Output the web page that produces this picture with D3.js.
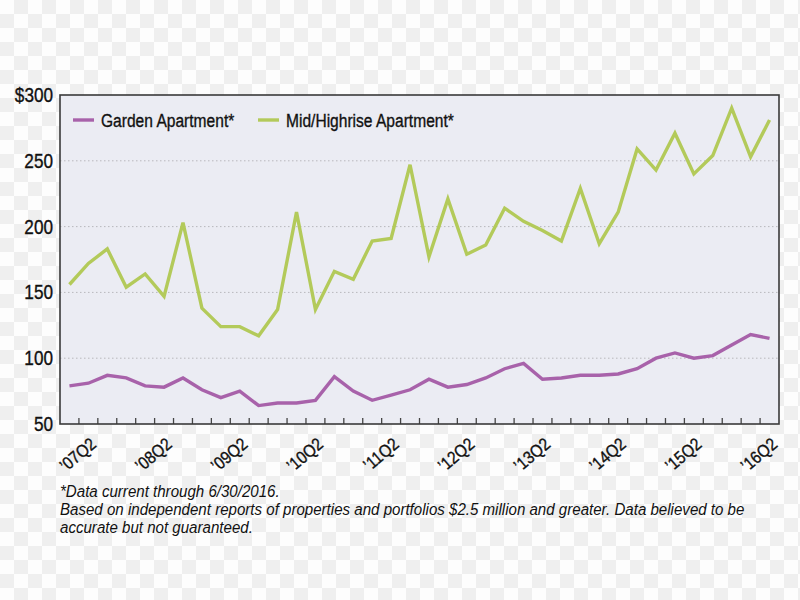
<!DOCTYPE html>
<html><head><meta charset="utf-8">
<script src="https://cdn.jsdelivr.net/npm/d3@7"></script>
<style>
html,body{margin:0;padding:0;background:#fff;}
svg{display:block;}
text{font-family:'Liberation Sans','Arial',sans-serif;fill:#111;}
.heavy{stroke:#111;stroke-width:0.35px;}
</style></head>
<body>
<svg id="chart" width="800" height="600"></svg>
<script>
const quarters = ["07Q1","07Q2","07Q3","07Q4","08Q1","08Q2","08Q3","08Q4","09Q1","09Q2","09Q3","09Q4",
  "10Q1","10Q2","10Q3","10Q4","11Q1","11Q2","11Q3","11Q4","12Q1","12Q2","12Q3","12Q4",
  "13Q1","13Q2","13Q3","13Q4","14Q1","14Q2","14Q3","14Q4","15Q1","15Q2","15Q3","15Q4","16Q1","16Q2"];
const garden = [79,81,87,85,79,78,85,76,70,75,64,66,66,68,86,75,68,72,76,84,78,80,85,92,96,84,85,87,87,88,92,100,104,100,102,110,118,115];
const highrise = [156,172,183,154,164,147,203,138,124,124,117,137,211,137,166,160,189,191,247,177,221,179,186,214,204,197,189,229,187,211,259,243,271,240,254,290,253,281];
const tickQuarters = ["07Q2","08Q2","09Q2","10Q2","11Q2","12Q2","13Q2","14Q2","15Q2","16Q2"];
const tickLabels = ["\u201907Q2","\u201908Q2","\u201909Q2","\u201910Q2","\u201911Q2","\u201912Q2","\u201913Q2","\u201914Q2","\u201915Q2","\u201916Q2"];
const yTicks = [50,100,150,200,250,300];
const yTickLabels = ["50","100","150","200","250","$300"];
const seriesNames = ["Garden Apartment*","Mid/Highrise Apartment*"];
const seriesColors = ["#a862aa","#b3ca5a"];
const notes = ["*Data current through 6/30/2016.",
  "Based on independent reports of properties and portfolios $2.5 million and greater. Data believed to be",
  "accurate but not guaranteed."];

const svg = d3.select("#chart");
const L = 60, R = 779, T = 95, B = 424;

// checker background
const defs = svg.append("defs");
const pat = defs.append("pattern").attr("id","chk").attr("width",28).attr("height",28).attr("patternUnits","userSpaceOnUse");
pat.append("rect").attr("width",28).attr("height",28).attr("fill","#fdfdfd");
pat.append("rect").attr("x",14).attr("y",0).attr("width",14).attr("height",14).attr("fill","#efefef");
pat.append("rect").attr("x",0).attr("y",14).attr("width",14).attr("height",14).attr("fill","#efefef");
svg.append("rect").attr("width",800).attr("height",600).attr("fill","url(#chk)");

const x = d3.scaleBand().domain(quarters).range([L, R]).padding(0);
const bw = x.bandwidth();
const cx = q => x(q) + bw/2;
const y = d3.scaleLinear().domain([50,300]).range([B, T]);

svg.append("rect").attr("x",L).attr("y",T).attr("width",R-L).attr("height",B-T).attr("fill","#ebecf3");

// grid
svg.append("g").selectAll("line").data(yTicks.filter(v => v>50 && v<300)).join("line")
  .attr("x1",L).attr("x2",R).attr("y1",d=>y(d)).attr("y2",d=>y(d))
  .attr("stroke","#b8b8bc").attr("stroke-width",1).attr("stroke-dasharray","1.5,2.5");

// y labels (condensed)
svg.append("g").selectAll("text").data(yTicks).join("text")
  .attr("class","heavy")
  .attr("transform",d=>`translate(53,${y(d)+7}) scale(0.88,1)`)
  .attr("text-anchor","end").attr("font-size",19.5).text((d,i)=>yTickLabels[i]);

// x ticks at band boundaries
svg.append("g").selectAll("line").data(quarters.slice(1)).join("line")
  .attr("x1",d=>x(d)).attr("x2",d=>x(d)).attr("y1",B).attr("y2",B-6)
  .attr("stroke","#444").attr("stroke-width",1.3);

// x labels
svg.append("g").selectAll("text").data(tickQuarters).join("text")
  .attr("class","heavy")
  .attr("text-anchor","end").attr("font-size",17.5)
  .attr("transform",d=>`translate(${cx(d)+9},${B+22}) rotate(-40) scale(0.88,1)`)
  .text((d,i)=>tickLabels[i]);

// lines
const line = d3.line().x((d,i)=>cx(quarters[i])).y(d=>y(d));
[garden, highrise].forEach((s,k)=>{
  svg.append("path").datum(s).attr("d",line).attr("fill","none")
    .attr("stroke",seriesColors[k]).attr("stroke-width",3.4).attr("stroke-linejoin","miter");
});

// border
svg.append("rect").attr("x",L).attr("y",T).attr("width",R-L).attr("height",B-T)
  .attr("fill","none").attr("stroke","#3a3a3a").attr("stroke-width",1.6);

// legend
const legX = [73, 258];
seriesNames.forEach((n,k)=>{
  svg.append("line").attr("x1",legX[k]).attr("x2",legX[k]+21).attr("y1",120).attr("y2",120)
    .attr("stroke",seriesColors[k]).attr("stroke-width",3.4);
  svg.append("text").attr("class","heavy").attr("transform",`translate(${legX[k]+28},126.5) scale(0.82,1)`)
    .attr("font-size",19).text(n);
});

// notes
svg.append("g").selectAll("text").data(notes).join("text")
  .attr("transform",(d,i)=>`translate(60,${497+i*18}) scale(0.915,1)`)
  .attr("font-size",16.5).attr("font-style","italic").text(d=>d);
</script>
</body></html>
